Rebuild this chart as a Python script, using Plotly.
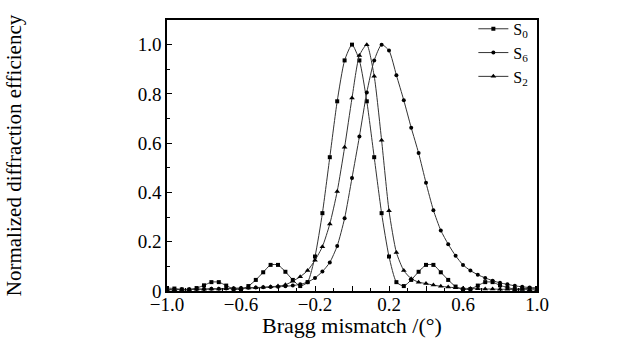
import plotly.graph_objects as go

x_vals = [round(-1.0 + 0.04 * i, 2) for i in range(51)]

s0 = [0.012, 0.010, 0.006, 0.005, 0.012, 0.023, 0.036, 0.036, 0.022, 0.008,
      0.006, 0.020, 0.045, 0.076, 0.106, 0.106, 0.078, 0.045, 0.020, 0.036,
      0.140, 0.316, 0.543, 0.770, 0.936, 1.000, 0.936, 0.770, 0.543, 0.316,
      0.140, 0.036, 0.020, 0.045, 0.078, 0.106, 0.106, 0.076, 0.045, 0.018,
      0.006, 0.008, 0.022, 0.036, 0.036, 0.023, 0.014, 0.008, 0.010, 0.010,
      0.012]

s6 = [0.006, 0.006, 0.007, 0.007, 0.008, 0.008, 0.009, 0.009, 0.010, 0.011,
      0.012, 0.013, 0.014, 0.015, 0.016, 0.017, 0.019, 0.022, 0.027, 0.036,
      0.053, 0.079, 0.116, 0.183, 0.295, 0.459, 0.627, 0.806, 0.936, 1.000,
      0.976, 0.876, 0.774, 0.663, 0.560, 0.439, 0.328, 0.246, 0.190, 0.143,
      0.106, 0.083, 0.066, 0.053, 0.042, 0.033, 0.027, 0.021, 0.017, 0.014,
      0.012]

s2 = [0.005, 0.005, 0.006, 0.006, 0.007, 0.007, 0.008, 0.008, 0.009, 0.010,
      0.011, 0.012, 0.013, 0.015, 0.017, 0.020, 0.025, 0.040, 0.058, 0.083,
      0.125, 0.180, 0.272, 0.404, 0.583, 0.783, 0.956, 1.000, 0.872, 0.612,
      0.326, 0.156, 0.083, 0.050, 0.036, 0.030, 0.024, 0.019, 0.016, 0.013,
      0.011, 0.010, 0.009, 0.008, 0.008, 0.007, 0.007, 0.006, 0.006, 0.005,
      0.005]

series_names = ["S<sub>0</sub>", "S<sub>6</sub>", "S<sub>2</sub>"]
series_data = [s0, s6, s2]
symbols = ["square", "circle", "triangle-up"]
marker_sizes = [4, 4, 5]

x_tickvals = [-1.0, -0.8, -0.6, -0.4, -0.2, 0.0, 0.2, 0.4, 0.6, 0.8, 1.0]
x_ticktext = ["\u22121.0", "", "\u22120.6", "", "\u22120.2", "", "0.2", "", "0.6", "", "1.0"]
y_tickvals = [0, 0.2, 0.4, 0.6, 0.8, 1.0]
y_ticktext = ["0", "0.2", "0.4", "0.6", "0.8", "1.0"]

FONT = "Liberation Serif"

fig = go.Figure()
for name, ys, sym, ms in zip(series_names, series_data, symbols, marker_sizes):
    fig.add_trace(go.Scatter(
        x=x_vals, y=ys, name=name, mode="lines+markers",
        line=dict(color="#333333", width=1, shape="spline", smoothing=0.6),
        marker=dict(symbol=sym, size=ms, color="black"),
    ))

fig.update_layout(
    width=620, height=338,
    margin=dict(l=167, r=83, t=16, b=47),
    paper_bgcolor="white", plot_bgcolor="white",
    font=dict(family=FONT, size=19, color="black"),
    showlegend=True,
    legend=dict(x=0.828, y=1.03, xanchor="left", yanchor="top",
                bgcolor="rgba(0,0,0,0)",
                font=dict(family=FONT, size=16, color="black"),
                tracegroupgap=0, itemwidth=30),
    xaxis=dict(range=[-1.0, 1.0], tickvals=x_tickvals, ticktext=x_ticktext,
               ticks="inside", ticklen=5, tickwidth=1, tickcolor="black",
               tickfont=dict(family=FONT, size=19, color="black"),
               ticklabelstandoff=-5,
               minor=dict(dtick=0.1, ticks="inside", ticklen=3, tickcolor="black"),
               showline=True, linecolor="black", linewidth=1.5, mirror=True,
               showgrid=False, zeroline=False, automargin=False,
               title=dict(text="Bragg mismatch /(\u00b0)", standoff=2,
                          font=dict(family=FONT, size=22, color="black"))),
    yaxis=dict(range=[0, 1.1], tickvals=y_tickvals, ticktext=y_ticktext,
               ticks="inside", ticklen=5, tickwidth=1, tickcolor="black",
               tickfont=dict(family=FONT, size=19, color="black"),
               minor=dict(dtick=0.1, ticks="inside", ticklen=3, tickcolor="black"),
               showline=True, linecolor="black", linewidth=1.5, mirror=True,
               showgrid=False, zeroline=False, automargin=False,
               title=dict(text="Normalized diffraction efficiency", standoff=110,
                          font=dict(family=FONT, size=21, color="black"))),
)

fig.write_html("out.html", config={"displayModeBar": False},
               post_script="document.body.style.margin='0px';")
